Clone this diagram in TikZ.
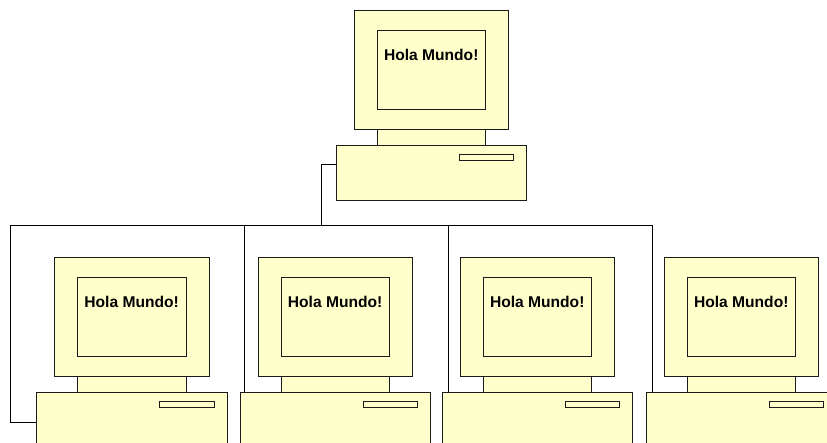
\documentclass[tikz,border=0pt]{standalone}
\usepackage{fontspec}
\setsansfont{Liberation Sans}
\usepackage{tikz}
\usetikzlibrary{calc,positioning}
\definecolor{ink}{HTML}{1A1A1A}
\definecolor{cream}{HTML}{FFFFCC}

\begin{document}
\begin{tikzpicture}[x=1pt,y=-1pt,
  box/.style={draw=ink,fill=cream,line width=0.8pt,inner sep=0pt,outer sep=0pt,anchor=north west},
  monitor/.style={box,minimum width=154.4pt,minimum height=119pt},
  screen/.style={box,minimum width=108.5pt,minimum height=79pt},
  neck/.style={box,minimum width=108.5pt,minimum height=16pt},
  case/.style={box,minimum width=190.5pt,minimum height=55pt},
  slot/.style={box,minimum width=54.5pt,minimum height=6.3pt},
  msg/.style={font=\sffamily\bfseries\fontsize{15.6}{18}\selectfont,text=black,anchor=center},
  wire/.style={draw=black,line width=0.9pt}]
  \useasboundingbox (0,0) rectangle (827,443);
  \clip (0,0) rectangle (827,443);
  % one workstation per entry: name / left of monitor / top of monitor
  \foreach \n/\x/\y in {top/354.3/10, a/54.7/257.3, b/258.2/257.3, c/460.3/257.3, d/664.3/257.3} {
    \node[monitor] (mon-\n)  at (\x,\y) {};
    \node[screen]  (scr-\n)  at (\x+22.7,\y+20) {};
    \node[msg]     (txt-\n)  at ([yshift=-24.5pt]scr-\n.north) {Hola Mundo!};
    \node[neck]    (neck-\n) at (\x+22.7,\y+119) {};
    \node[case]    (base-\n) at (\x-18.3,\y+135) {};
    \node[slot]    (slot-\n) at (\x+104.8,\y+144) {};
  }
  % bus: left end, then the drop from the server
  \coordinate (bus-l) at (10,225.3);
  \draw[wire] ([yshift=-19.3pt]base-top.north west) -- ++(-14.3,0) |- (bus-l);
  \draw[wire] (bus-l) |- ([yshift=-29.7pt]base-a.north west);
  \draw[wire] (bus-l) -| ([xshift=4.2pt]base-b.north west);
  \foreach \n in {c,d}
    \draw[wire] (bus-l) -| ([xshift=6.4pt]base-\n.north west);
\end{tikzpicture}
\end{document}
